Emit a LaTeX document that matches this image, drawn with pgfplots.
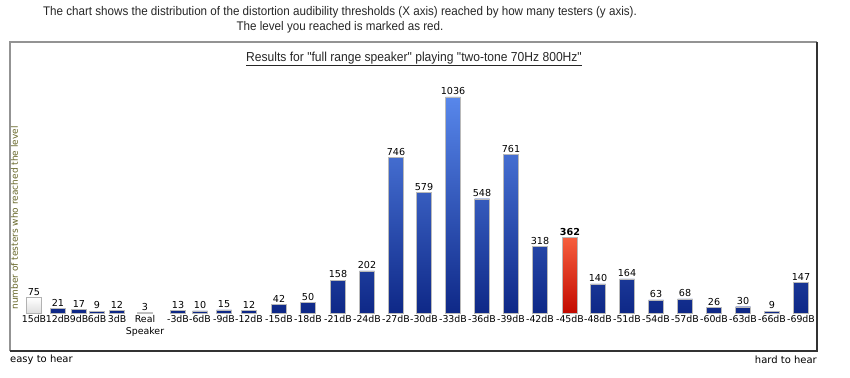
\documentclass[border=0pt]{standalone}
\usepackage{pgfplots}
\pgfplotsset{compat=1.18}
\usepackage{fontspec}
\setmainfont{DejaVu Sans}
\newfontfamily\narrowfont{Liberation Sans}[FakeStretch=0.93]
\definecolor{bluetop}{RGB}{88,135,235}
\definecolor{bluemid}{RGB}{45,88,205}
\definecolor{bluebot}{RGB}{14,40,135}
\definecolor{redtop}{RGB}{246,95,62}
\definecolor{redmid}{RGB}{225,45,25}
\definecolor{redbot}{RGB}{195,10,0}
\definecolor{ylab}{RGB}{102,102,40}
\begin{document}
\begin{tikzpicture}
\begin{axis}[at={(0pt,-377pt)}, anchor=south west, scale only axis,
  width=850pt, height=377pt, xmin=0, xmax=850, ymin=-306.96, ymax=1501.2,
  axis line style={draw=none}, ytick=\empty, major tick length=0pt,
  /pgf/number format/assume math mode=true,
  /pgf/number format/1000 sep={},
  xtick={34,58,79,97,117,145,178,200,224,249,279,308,338,367,396,424,453,482,511,540,570,598,627,656,685,714,743,772,801},
  xticklabels={15dB,12dB,9dB,6dB,3dB,{Real\\Speaker},-3dB,-6dB,-9dB,-12dB,-15dB,-18dB,-21dB,-24dB,-27dB,-30dB,-33dB,-36dB,-39dB,-42dB,-45dB,-48dB,-51dB,-54dB,-57dB,-60dB,-63dB,-66dB,-69dB},
  xticklabel style={font=\fontsize{9.4}{12}\selectfont, anchor=north, align=center, inner sep=0pt, yshift=62pt},
  clip=false,
  nodes near coords style={font=\fontsize{9.6}{10}\selectfont, inner sep=1.8pt, text=black, anchor=south},
]
\addplot[ybar, bar width=15, bar shift=0pt, draw=gray!55, top color=bluetop, middle color=bluemid, bottom color=bluebot, nodes near coords] coordinates {
(58,21) (79,17) (97,9) (117,12) (178,13) (200,10) (224,15) (249,12) (279,42) (308,50) (338,158) (367,202) (396,746) (424,579) (453,1036) (482,548) (511,761) (540,318) (598,140) (627,164) (656,63) (685,68) (714,26) (743,30) (772,9) (801,147)};
\addplot[ybar, bar width=15, bar shift=0pt, draw=gray!60, top color=white, bottom color=gray!25, nodes near coords] coordinates {(34,75)};
\addplot[ybar, bar width=15, bar shift=0pt, draw=gray!50, top color=gray!55, bottom color=gray!75, nodes near coords] coordinates {(145,3)};
\addplot[ybar, bar width=15, bar shift=0pt, draw=gray!55, top color=redtop, middle color=redmid, bottom color=redbot, nodes near coords, nodes near coords style={font=\fontsize{9.6}{10}\selectfont\bfseries}] coordinates {(570,362)};
\end{axis}
\begin{scope}[x=1pt,y=1pt]
\draw[line width=1.8pt, gray!85] (10,-351) -- (10,-42) -- (817,-42);
\draw[line width=1.5pt, black!80] (817,-42) -- (817,-351) -- (10,-351);
\node[font=\narrowfont\fontsize{12.5}{14}\selectfont, text=black!85] at (340,-12) {The chart shows the distribution of the distortion audibility thresholds (X axis) reached by how many testers (y axis).};
\node[font=\narrowfont\fontsize{12.5}{14}\selectfont, text=black!85] at (340,-27) {The level you reached is marked as red.};
\node[font=\narrowfont\fontsize{13}{14}\selectfont, text=black!85] at (414,-59) {\underline{Results for "full range speaker" playing "two-tone 70Hz 800Hz"}};
\node[rotate=90, font=\fontsize{9}{10}\selectfont, text=ylab] at (14.5,-218) {number of testers who reached the level};
\node[anchor=west, font=\fontsize{10}{12}\selectfont, inner sep=0pt] at (10,-360) {easy to hear};
\node[anchor=east, font=\fontsize{10}{12}\selectfont, inner sep=0pt] at (817,-360) {hard to hear};
\end{scope}
\pgfresetboundingbox
\path[use as bounding box] (0pt,0pt) rectangle (850pt,-377pt);
\end{tikzpicture}
\end{document}
